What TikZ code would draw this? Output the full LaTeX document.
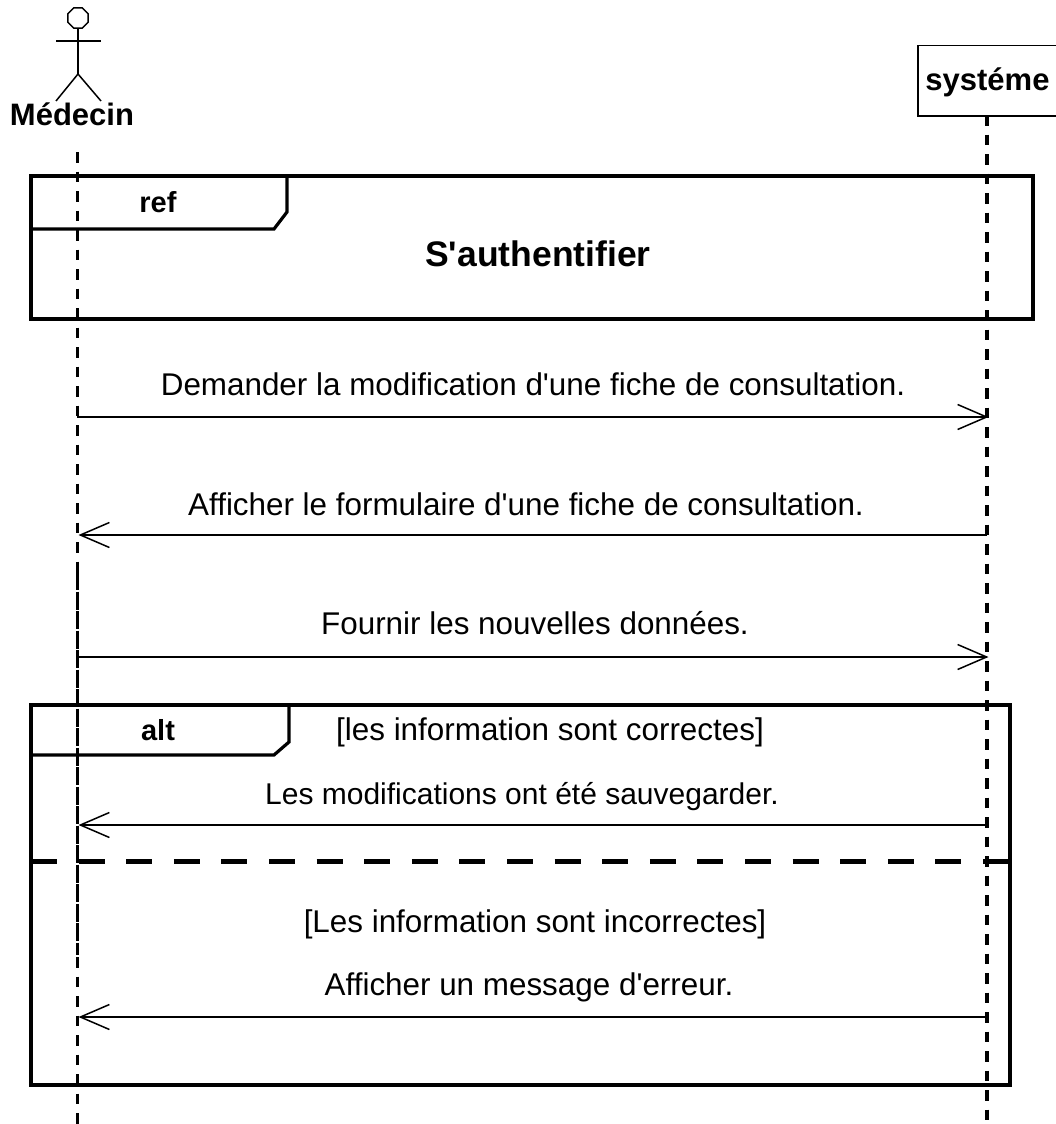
\documentclass[tikz,border=0pt]{standalone}
\usepackage{fontspec}
\setmainfont{Liberation Sans}
\usetikzlibrary{arrows.meta,shapes.geometric}
\tikzset{
  msg/.style={line width=1.5pt,-{Straight Barb[length=29pt,width=25pt,line width=1.5pt]}},
  msgtext/.style={inner sep=0pt,anchor=base,font=\fontsize{31.4}{31.4}\selectfont},
  boldtext/.style={inner sep=0pt,anchor=base,font=\fontsize{31}{31}\selectfont\bfseries},
  tabtext/.style={inner sep=0pt,anchor=base,font=\fontsize{29}{29}\selectfont\bfseries},
  frame/.style={line width=3.2pt,line join=miter},
  lifeline/.style={line width=3.8pt,dash pattern=on 10.5pt off 9pt},
  solidline/.style={line width=3.8pt,dash pattern=on 18pt off 1.5pt},
  stick/.style={line width=1.5pt}
}
\begin{document}
\begin{tikzpicture}[x=1pt,y=-1pt]
\useasboundingbox (0,0) rectangle (1056,1124);
% Actor on the left
\node[draw,stick,regular polygon,regular polygon sides=8,minimum size=22pt,inner sep=0pt] (head) at (78,18) {};
\coordinate (hip) at (78,74);
\coordinate (armL) at (56,41);
\coordinate (armR) at (101,41);
\coordinate (legL) at (56,101);
\coordinate (legR) at (101,101);
\draw[stick] (head) -- (hip);
\draw[stick] (armL) -- (armR);
\draw[stick] (legL) -- (hip) -- (legR);
\node[boldtext] (medecin) at (72,125) {Médecin};
% Box on the right
\node[draw,stick,minimum width=150pt,minimum height=70pt,inner sep=0pt,anchor=north west] (systeme) at (917,45) {};
\node[boldtext] (systemetext) at (987.5,90) {systéme};
% Ends of the two lifelines
\coordinate (mtop) at (77.5,152);
\coordinate (mjoina) at (77.5,572);
\coordinate (mjoinb) at (77.5,955);
\coordinate (mjoinc) at (77.5,957);
\coordinate (mbot) at (77.5,1124);
\coordinate (stop) at (987,115);
\coordinate (sbot) at (987,1124);
\draw[lifeline] (mtop) -- (mjoina);
\draw[solidline] (mjoina) -- (mjoinb);
\draw[lifeline] (mjoinc) -- (mbot);
\draw[lifeline] (stop) -- (sbot);
% The ref frame
\coordinate (refa) at (31,176);
\coordinate (refb) at (1033,319);
\coordinate (refc) at (287,176);
\coordinate (refd) at (287,212);
\coordinate (refe) at (274,229);
\coordinate (reff) at (31,229);
\draw[frame] (refa) rectangle (refb);
\draw[frame] (refc) -- (refd) -- (refe) -- (reff);
\node[tabtext] (reflabel) at (158,212) {ref};
\node[inner sep=0pt,anchor=base,font=\fontsize{35.5}{35.5}\selectfont\bfseries] (reftitle) at (538,266) {S\textquotesingle authentifier};
% The alt frame
\coordinate (alta) at (31,705);
\coordinate (altb) at (1010,1085);
\coordinate (altc) at (289,705);
\coordinate (altd) at (289,742);
\coordinate (alte) at (274,755);
\coordinate (altf) at (31,755);
\coordinate (divl) at (31,861);
\coordinate (divr) at (1010,861);
\draw[frame] (alta) rectangle (altb);
\draw[frame] (altc) -- (altd) -- (alte) -- (altf);
\draw[line width=5pt,dash pattern=on 26pt off 21.6pt] (divl) -- (divr);
\node[tabtext] (altlabel) at (158,740) {alt};
\node[msgtext] (guarda) at (550,740.5) {[les information sont correctes]};
\node[msgtext] (guardb) at (535,932) {[Les information sont incorrectes]};
% Messages: y / text centre / text y / text
\foreach \y/\cx/\ty/\txt [count=\i] in {
  417/533/395.5/{Demander la modification d\textquotesingle une fiche de consultation.},
  657/535/634.5/{Fournir les nouvelles données.}}
{
  \coordinate (a\i) at (77,\y);
  \coordinate (b\i) at (988.5,\y);
  \draw[msg] (a\i) -- (b\i);
  \node[msgtext] (la\i) at (\cx,\ty) {\txt};
}
\foreach \y/\cx/\ty/\txt [count=\i] in {
  535/526/515.5/{Afficher le formulaire d\textquotesingle une fiche de consultation.},
  825/522/804.5/{\fontsize{30}{30}\selectfont Les modifications ont été sauvegarder.},
  1017/529/995/{Afficher un message d\textquotesingle erreur.}}
{
  \coordinate (c\i) at (987,\y);
  \coordinate (d\i) at (78.5,\y);
  \draw[msg] (c\i) -- (d\i);
  \node[msgtext] (lb\i) at (\cx,\ty) {\txt};
}
\end{tikzpicture}
\end{document}
